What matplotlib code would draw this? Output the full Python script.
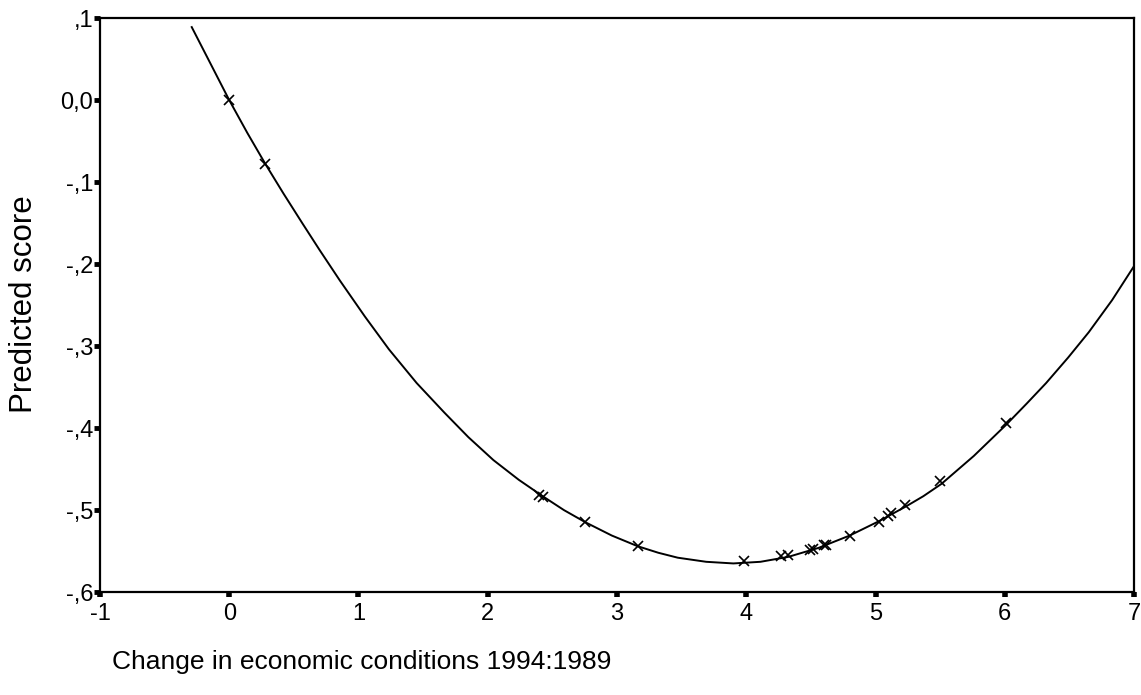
import matplotlib.pyplot as plt

plt.rcParams['font.family'] = ['Liberation Sans', 'DejaVu Sans']

curve_x = [-0.29, -0.14, 0.0, 0.14, 0.28, 0.42, 0.565, 0.70, 0.856, 1.05,
           1.236, 1.45, 1.664, 1.85, 2.044, 2.24, 2.425, 2.59, 2.758, 2.96,
           3.16, 3.32, 3.47, 3.69, 3.90, 4.11, 4.325, 4.56, 4.80, 5.02, 5.23,
           5.37, 5.51, 5.76, 6.01, 6.17, 6.32, 6.49, 6.65, 6.83, 7.01]
curve_y = [0.089, 0.043, 0.0, -0.040, -0.078, -0.114, -0.150, -0.183, -0.220,
           -0.264, -0.304, -0.345, -0.381, -0.411, -0.439, -0.463, -0.483,
           -0.500, -0.515, -0.531, -0.544, -0.552, -0.558, -0.563, -0.565,
           -0.563, -0.557, -0.546, -0.531, -0.514, -0.496, -0.483, -0.468,
           -0.434, -0.396, -0.370, -0.345, -0.314, -0.283, -0.244, -0.200]

# observed cases
obs_x = [0.0, 0.28, 2.40, 2.43, 2.75, 3.16, 3.98, 4.27, 4.32, 4.49, 4.52,
         4.60, 4.62, 4.80, 5.03, 5.10, 5.12, 5.23, 5.50, 6.01]
obs_y = [0.0, -0.078, -0.481, -0.484, -0.515, -0.544, -0.562, -0.556, -0.555,
         -0.549, -0.548, -0.543, -0.542, -0.531, -0.514, -0.507, -0.504,
         -0.494, -0.465, -0.394]

x_ticks = [-1, 0, 1, 2, 3, 4, 5, 6, 7]
y_ticks = [0.1, 0.0, -0.1, -0.2, -0.3, -0.4, -0.5, -0.6]
y_labels = [',1', '0,0', '-,1', '-,2', '-,3', '-,4', '-,5', '-,6']

fig = plt.figure(figsize=(11.41, 6.95), dpi=100)
ax = fig.add_axes([0.0876, 0.148, 0.9063, 0.826])

ax.plot(curve_x, curve_y, color='black', lw=1.4, zorder=2)
ax.plot(obs_x, obs_y, ls='none', marker='x', ms=7, mew=1.2,
        color='black', zorder=3)

ax.set_xlim(-1, 7)
ax.set_ylim(-0.6, 0.1)
ax.set_xticks(x_ticks)
ax.set_xticklabels([str(v) for v in x_ticks])
ax.set_yticks(y_ticks)
ax.set_yticklabels(y_labels)

for s in ax.spines.values():
    s.set_linewidth(1.6)
    s.set_color('black')

ax.tick_params(axis='y', length=4, width=3.5, labelsize=17, pad=1)
ax.tick_params(axis='x', length=3.5, width=4, labelsize=17, pad=4)

fig.text(0.021, 0.563, 'Predicted score', rotation=90, fontsize=22.5,
         ha='center', va='center')
fig.text(0.098, 0.047, 'Change in economic conditions 1994:1989',
         fontsize=19, ha='left', va='center')

plt.savefig('out.png', dpi=100, facecolor='white')
